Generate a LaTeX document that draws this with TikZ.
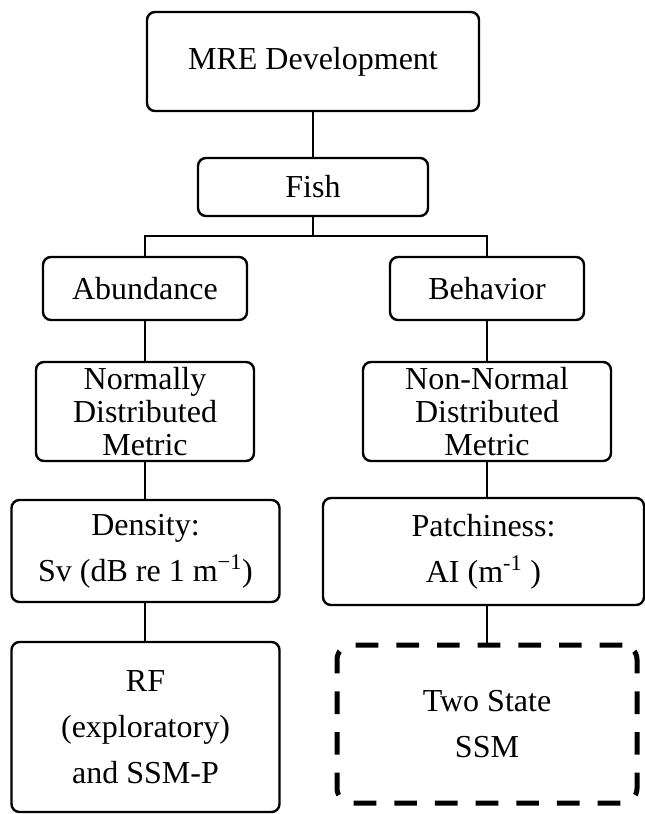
\documentclass[tikz,border=0pt]{standalone}
\usepackage{fontspec}
\setmainfont{Liberation Serif}
\begin{document}
\begin{tikzpicture}[x=0.75pt,y=-0.75pt,
  box/.style={draw, line width=1.8pt, rounded corners=6pt, inner sep=0pt, align=center,
    font=\fontsize{24}{24.75}\selectfont},
  tallbox/.style={box, font=\fontsize{24}{34.5}\selectfont},
  dashbox/.style={tallbox, line width=3.75pt, rounded corners=11pt, dash pattern=on 17pt off 13.5pt},
  link/.style={line width=1.8pt}]
\useasboundingbox (0,0) rectangle (645,814);
\node[box, minimum width=249pt, minimum height=74.25pt] (mre) at (313,61.5) {MRE Development};
\node[box, minimum width=172.5pt, minimum height=43.5pt] (fish) at (313,187) {Fish};
\node[box, minimum width=153pt, minimum height=47.25pt] (abund) at (145,288.5) {Abundance};
\node[box, minimum width=145.5pt, minimum height=47.25pt] (behav) at (487,288.5) {Behavior};
\node[box, minimum width=163.5pt, minimum height=74.25pt] (norm) at (145,411.5) {Normally\\Distributed\\Metric};
\node[box, minimum width=186pt, minimum height=74.25pt] (nonnorm) at (487,411.5) {Non-Normal\\Distributed\\Metric};
\node[tallbox, minimum width=201pt, minimum height=76.5pt] (dens) at (145.5,551) {Density:\\Sv (dB re 1 m\textsuperscript{−1})};
\node[tallbox, minimum width=240.75pt, minimum height=80.25pt] (patch) at (483.5,551.5) {Patchiness:\\AI (m\textsuperscript{-1} )};
\node[tallbox, minimum width=201pt, minimum height=127.5pt] (rf) at (145.5,727) {RF\\(exploratory)\\and SSM-P};
\node[dashbox, minimum width=225pt, minimum height=118.5pt] (two) at (487,724) {Two State\\SSM};
\coordinate (j) at (313,236);
\draw[link] (mre.south) -- (fish.north);
\draw[link] (fish.south) -- (j);
\draw[link] (abund.north) |- (j) -| (behav.north);
\draw[link] (abund.south) -- (norm.north);
\draw[link] (behav.south) -- (nonnorm.north);
\draw[link] (norm.south) -- (norm.south |- dens.north);
\draw[link] (nonnorm.south) -- (nonnorm.south |- patch.north);
\draw[link] (dens.south -| norm.south) -- (norm.south |- rf.north);
\draw[link] (patch.south -| nonnorm.south) -- (nonnorm.south |- two.north);
\end{tikzpicture}
\end{document}
